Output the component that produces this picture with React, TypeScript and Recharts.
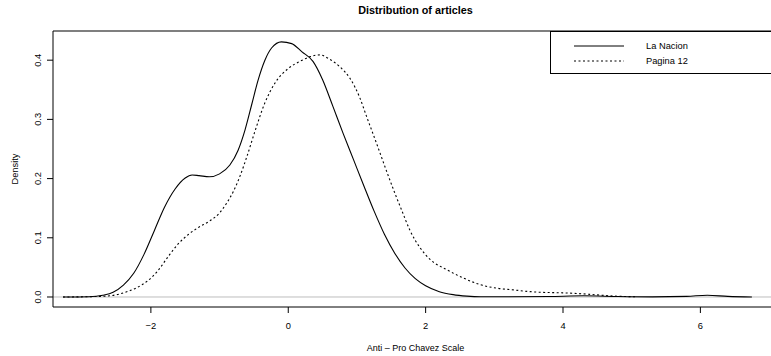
import { LineChart, Line, XAxis, YAxis, ReferenceLine, Legend } from "recharts";

// density curves
const naX = [-3.28, -2.9, -2.7, -2.55, -2.4, -2.25, -2.1, -1.95, -1.8, -1.65, -1.5, -1.4, -1.3, -1.15, -1.0, -0.85, -0.73, -0.63, -0.53, -0.44, -0.34, -0.24, -0.1, 0.05, 0.2, 0.36, 0.5, 0.65, 0.8, 0.95, 1.1, 1.25, 1.4, 1.55, 1.7, 1.85, 2.0, 2.2, 2.4, 2.6, 2.8, 3.2, 3.8, 4.3, 4.8, 5.3, 5.8, 6.1, 6.4, 6.75];
const naY = [0, 0.0005, 0.003, 0.008, 0.02, 0.04, 0.072, 0.112, 0.152, 0.182, 0.201, 0.206, 0.205, 0.203, 0.208, 0.223, 0.248, 0.282, 0.326, 0.366, 0.4, 0.421, 0.431, 0.428, 0.414, 0.398, 0.367, 0.322, 0.276, 0.232, 0.188, 0.145, 0.106, 0.074, 0.049, 0.031, 0.019, 0.009, 0.004, 0.0015, 0.0004, 0.0003, 0.0008, 0.002, 0.0008, 0.0002, 0.001, 0.003, 0.001, 0];

const pgX = [-3.28, -2.9, -2.6, -2.4, -2.2, -2.05, -1.9, -1.75, -1.6, -1.45, -1.3, -1.15, -1.0, -0.9, -0.8, -0.7, -0.6, -0.49, -0.34, -0.19, 0, 0.17, 0.32, 0.46, 0.61, 0.75, 0.9, 1.04, 1.14, 1.29, 1.43, 1.55, 1.65, 1.77, 1.92, 2.06, 2.31, 2.55, 2.79, 3.03, 3.28, 3.52, 3.8, 4.0, 4.2, 4.39, 4.73, 5.08];
const pgY = [0, 0.0005, 0.002, 0.007, 0.016, 0.027, 0.044, 0.068, 0.09, 0.106, 0.118, 0.128, 0.142, 0.158, 0.178, 0.205, 0.238, 0.278, 0.328, 0.362, 0.386, 0.398, 0.406, 0.409, 0.401, 0.389, 0.369, 0.337, 0.305, 0.258, 0.213, 0.176, 0.147, 0.113, 0.083, 0.064, 0.046, 0.032, 0.021, 0.015, 0.012, 0.009, 0.0075, 0.007, 0.006, 0.0045, 0.0017, 0.0003];

const xTicks = [-2, 0, 2, 4, 6];
const yTicks = [0, 0.1, 0.2, 0.3, 0.4];

const X_MIN = -3.425;
const X_MAX = 7.13;
const Y_MIN = -0.0169;
const Y_MAX = 0.4493;

const FONT = "'Liberation Sans', Arial, Helvetica, sans-serif";

const naData = naX.map((x, i) => ({ x, y: naY[i] }));
const pgData = pgX.map((x, i) => ({ x, y: pgY[i] }));

function YTick({ x, y, payload }: any) {
  const bx = x - 4.2;
  return (
    <text
      x={bx}
      y={y}
      transform={`rotate(-90, ${bx}, ${y})`}
      textAnchor="middle"
      fontSize={9.3}
      fontFamily={FONT}
      fill="#000"
    >
      {payload.value.toFixed(1)}
    </text>
  );
}

function formatX(v: number) {
  return v < 0 ? `\u2212${Math.abs(v)}` : String(v);
}

function LegendBox() {
  const rows = [
    { name: "La Nacion", dash: undefined },
    { name: "Pagina 12", dash: "2 2.5" },
  ];
  return (
    <div
      style={{
        width: 228,
        height: 43,
        boxSizing: "border-box",
        border: "1px solid #000",
        background: "#fff",
        position: "relative",
        fontFamily: FONT,
        fontSize: 9.3,
      }}
    >
      {rows.map((r, i) => (
        <div key={r.name} style={{ position: "absolute", left: 0, top: 8 + i * 15, height: 12, width: "100%" }}>
          <svg width={60} height={12} style={{ position: "absolute", left: 22, top: 0 }}>
            <line x1={1} x2={51} y1={6} y2={6} stroke="#000" strokeWidth={1} strokeDasharray={r.dash} />
          </svg>
          <span style={{ position: "absolute", left: 95, top: 0, lineHeight: "12px", whiteSpace: "nowrap" }}>
            {r.name}
          </span>
        </div>
      ))}
    </div>
  );
}

export default function App() {
  return (
    <div
      style={{
        position: "fixed",
        left: 0,
        top: 0,
        width: 771,
        height: 356,
        overflow: "hidden",
        background: "#fff",
      }}
    >
      <div
        style={{
          position: "absolute",
          left: 53,
          width: 725,
          top: 4,
          lineHeight: "12px",
          textAlign: "center",
          fontFamily: FONT,
          fontWeight: "bold",
          fontSize: 10.8,
        }}
      >
        Distribution of articles
      </div>
      <LineChart width={780} height={356} margin={{ top: 31, right: 2, bottom: 0, left: 0 }}>
        <XAxis
          type="number"
          dataKey="x"
          domain={[X_MIN, X_MAX]}
          allowDataOverflow
          ticks={xTicks}
          tickFormatter={formatX}
          height={49}
          tickSize={6}
          tickMargin={9}
          axisLine={{ stroke: "#000" }}
          tickLine={{ stroke: "#000" }}
          tick={{ fontSize: 9.3, fontFamily: FONT, fill: "#000" }}
          label={(props: any) => {
            const vb = props.viewBox;
            return (
              <text x={vb.x + vb.width / 2} y={350.5} textAnchor="middle" fontSize={9} fontFamily={FONT} fill="#000">
                Anti – Pro Chavez Scale
              </text>
            );
          }}
        />
        <YAxis
          type="number"
          domain={[Y_MIN, Y_MAX]}
          allowDataOverflow
          ticks={yTicks}
          width={53}
          tickSize={6}
          axisLine={{ stroke: "#000" }}
          tickLine={{ stroke: "#000" }}
          tick={<YTick />}
          label={(props: any) => {
            const vb = props.viewBox;
            const cy = vb.y + vb.height / 2;
            return (
              <text
                x={18.3}
                y={cy}
                transform={`rotate(-90, 18.3, ${cy})`}
                textAnchor="middle"
                fontSize={9.3}
                fontFamily={FONT}
                fill="#000"
              >
                Density
              </text>
            );
          }}
        />
        <ReferenceLine y={Y_MAX} stroke="#000" strokeWidth={1.2} />
        <ReferenceLine y={0} stroke="#bebebe" strokeWidth={1} />
        <Line
          data={naData}
          dataKey="y"
          name="La Nacion"
          type="monotone"
          stroke="#000"
          strokeWidth={1.1}
          dot={false}
          isAnimationActive={false}
        />
        <Line
          data={pgData}
          dataKey="y"
          name="Pagina 12"
          type="monotone"
          stroke="#000"
          strokeWidth={1.1}
          strokeDasharray="2 2.5"
          dot={false}
          isAnimationActive={false}
        />
        <Legend
          layout="horizontal"
          verticalAlign="middle"
          align="center"
          content={() => <LegendBox />}
          wrapperStyle={{ left: 550, top: 31, width: 228, height: 43 }}
        />
      </LineChart>
    </div>
  );
}
